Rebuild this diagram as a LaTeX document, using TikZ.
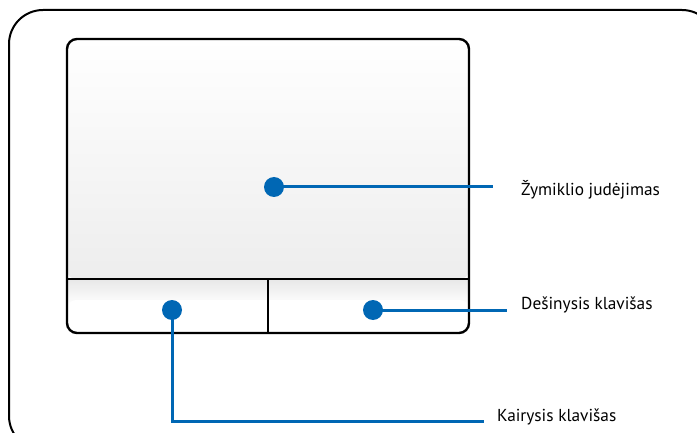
\documentclass[tikz,border=0pt]{standalone}
\usepackage{fontspec}
\setmainfont{PT Sans}
\begin{document}
\begin{tikzpicture}[x=1pt,y=-1pt,
  frame/.style={draw=black,line width=2pt},
  pad/.style={draw=black,line width=2.4pt},
  lead/.style={draw=callblue,line width=3pt},
  dotmark/.style={circle,fill=callblue,inner sep=0pt,minimum size=20pt},
  lbl/.style={anchor=west,font=\fontsize{17.3}{19}\selectfont,inner sep=0pt,text=black}]
\definecolor{callblue}{HTML}{0067B4}
\useasboundingbox (0,0) rectangle (697,433);
\begin{scope}
\clip (0,0) rectangle (697,433);
\draw[frame,rounded corners=34pt] (9,10) rectangle (716,450);
\end{scope}
% touchpad
\shade[top color=white,bottom color=black!7,rounded corners=9pt] (67,39) rectangle (469,279);
\shade[top color=black!9,bottom color=white] (68,280) rectangle (468,305);
\fill[white,rounded corners=8pt] (68,300) rectangle (468,332);
\draw[pad,rounded corners=10pt] (67,39) rectangle (469,333);
\draw[line width=2.2pt] (67,279) -- (469,279);
\draw[line width=2.2pt] (268,279) -- (268,333);
% dots
\node[dotmark] (d1) at (274,187) {};
\node[dotmark] (d2) at (373,310) {};
\node[dotmark] (d3) at (172,310) {};
% labels
\node[lbl] (t1) at (521,190) {Žymiklio judėjimas};
\node[lbl] (t2) at (521,305) {Dešinysis klavišas};
\node[lbl] (t3) at (497,417) {Kairysis klavišas};
\coordinate (e1) at (493,187);
\coordinate (e2) at (507,310);
\coordinate (c3) at (172,421);
\coordinate (e3) at (484,421);
\draw[lead] (d1.center) -- (e1);
\draw[lead] (d2.center) -- (e2);
\draw[lead] (d3.center) -- (c3) -- (e3);
\end{tikzpicture}
\end{document}
